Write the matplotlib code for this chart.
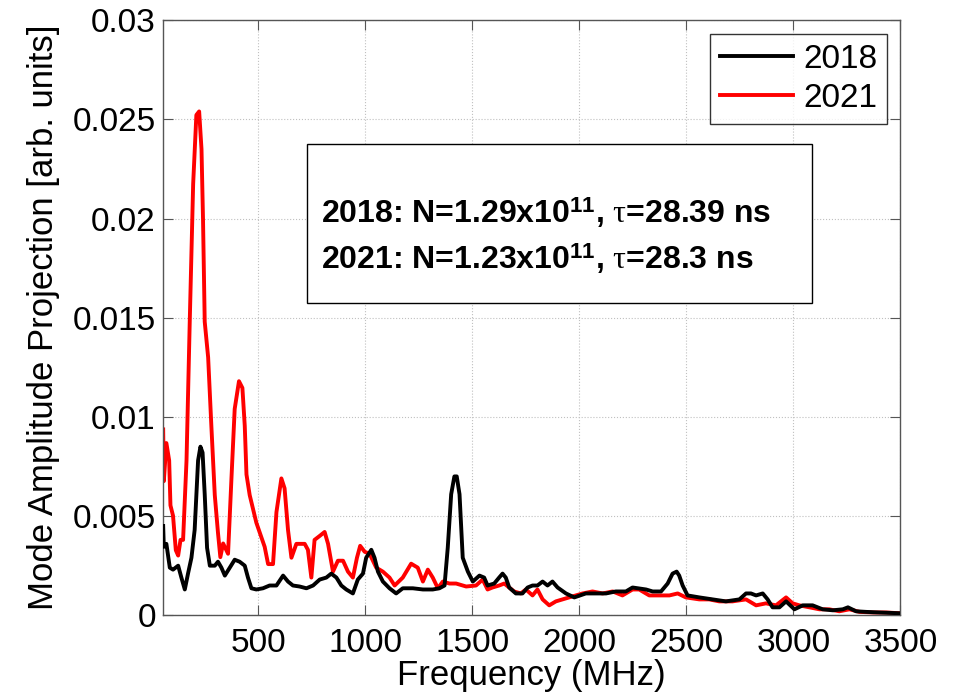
import matplotlib
matplotlib.use("Agg")
import matplotlib.pyplot as plt
from matplotlib.patches import Rectangle

plt.rcParams['font.family'] = ['Liberation Sans', 'DejaVu Sans']
plt.rcParams['mathtext.fontset'] = 'custom'
plt.rcParams['mathtext.rm'] = 'Liberation Sans'
plt.rcParams['mathtext.bf'] = 'Liberation Sans:bold'
plt.rcParams['mathtext.it'] = 'Liberation Serif'

freq_2018 = [57, 60, 72, 88, 103, 127, 142, 158, 173, 189, 204, 220, 231, 241, 251, 262, 275, 298,
             313, 329, 345, 368, 391, 414, 438, 453, 469, 492, 523, 554, 586, 617, 640, 663, 694,
             726, 757, 788, 819, 842, 866, 889, 912, 943, 966, 990, 1005, 1029, 1044, 1060, 1083,
             1114, 1145, 1176, 1223, 1270, 1316, 1347, 1371, 1386, 1402, 1417, 1428, 1441, 1456,
             1480, 1503, 1534, 1556, 1572, 1603, 1626, 1642, 1657, 1673, 1704, 1735, 1759, 1782,
             1805, 1829, 1852, 1875, 1899, 1938, 1977, 2031, 2078, 2125, 2171, 2218, 2249, 2312,
             2343, 2382, 2413, 2436, 2455, 2467, 2483, 2506, 2561, 2623, 2685, 2748, 2779, 2802,
             2826, 2857, 2880, 2903, 2935, 2966, 3005, 3044, 3090, 3137, 3184, 3231, 3255, 3293,
             3340, 3402, 3500]
amp_2018 = [0.0045, 0.00345, 0.0036, 0.0024, 0.0023, 0.0025, 0.0019, 0.0013, 0.0021, 0.0029, 0.0043,
            0.0078, 0.0085, 0.0082, 0.0061, 0.0034, 0.0025, 0.0025, 0.0027, 0.0024, 0.0020, 0.0024,
            0.0028, 0.0027, 0.0025, 0.0019, 0.00136, 0.0013, 0.00136, 0.0015, 0.0015, 0.0020,
            0.0017, 0.0015, 0.00145, 0.00136, 0.0015, 0.0018, 0.0019, 0.0021, 0.0019, 0.0015,
            0.0013, 0.0011, 0.0018, 0.0021, 0.0029, 0.0033, 0.0029, 0.0022, 0.0017, 0.00136,
            0.0011, 0.00136, 0.00136, 0.0013, 0.0013, 0.00136, 0.0015, 0.0034, 0.0061, 0.0070,
            0.0070, 0.0061, 0.0029, 0.0022, 0.0017, 0.0020, 0.0019, 0.0015, 0.0016, 0.0019, 0.0021,
            0.0019, 0.0014, 0.0011, 0.0011, 0.0014, 0.0015, 0.0015, 0.0017, 0.0015, 0.0017, 0.0014,
            0.0011, 0.0009, 0.0011, 0.0011, 0.0011, 0.0012, 0.0012, 0.0014, 0.0013, 0.0012, 0.0012,
            0.0016, 0.0021, 0.0022, 0.0020, 0.0015, 0.0010, 0.0009, 0.0008, 0.0007, 0.0008, 0.0011,
            0.0011, 0.0010, 0.0011, 0.0008, 0.0004, 0.0004, 0.0007, 0.0003, 0.0005, 0.0005, 0.0003,
            0.00025, 0.0003, 0.0004, 0.0002, 0.00017, 0.00014, 0.0001]

freq_2021 = [57, 60, 72, 85, 91, 103, 116, 127, 138, 150, 166, 181, 197, 212, 225, 236, 243, 251,
             267, 282, 298, 313, 324, 337, 360, 376, 391, 411, 427, 438, 446, 461, 492, 531, 547,
             570, 586, 609, 624, 640, 656, 679, 718, 733, 749, 764, 788, 811, 827, 850, 873, 897,
             920, 943, 962, 977, 998, 1021, 1052, 1083, 1114, 1138, 1176, 1215, 1246, 1270, 1293,
             1316, 1340, 1363, 1394, 1425, 1472, 1518, 1549, 1572, 1595, 1626, 1650, 1673, 1696,
             1727, 1751, 1782, 1805, 1829, 1860, 1891, 1922, 1953, 1984, 2016, 2062, 2109, 2156,
             2202, 2249, 2280, 2327, 2374, 2421, 2460, 2498, 2561, 2607, 2654, 2716, 2779, 2826,
             2872, 2919, 2966, 2997, 3028, 3075, 3122, 3168, 3215, 3262, 3309, 3371, 3433, 3500]
amp_2021 = [0.00937, 0.00676, 0.00868, 0.0078, 0.00554, 0.00502, 0.00328, 0.00301, 0.0038, 0.0038,
            0.0078, 0.01477, 0.02174, 0.02522, 0.0254, 0.0235, 0.0200, 0.0148, 0.0130, 0.00955,
            0.00606, 0.00415, 0.00293, 0.00362, 0.0031, 0.00693, 0.0104, 0.0118, 0.01146, 0.00955,
            0.0071, 0.00606, 0.00467, 0.00345, 0.00258, 0.00258, 0.0052, 0.0069, 0.0064, 0.0043,
            0.0029, 0.0036, 0.0036, 0.0033, 0.0019, 0.0038, 0.0040, 0.0042, 0.0036, 0.0022,
            0.00275, 0.00275, 0.0022, 0.0019, 0.0029, 0.0035, 0.0032, 0.0031, 0.0024, 0.0022,
            0.0019, 0.0015, 0.0019, 0.0026, 0.0024, 0.0017, 0.0023, 0.0019, 0.00136, 0.0017,
            0.0016, 0.0016, 0.00145, 0.0015, 0.0018, 0.0013, 0.0014, 0.0015, 0.0016, 0.0014,
            0.0012, 0.0011, 0.0013, 0.0010, 0.0013, 0.0008, 0.0005, 0.0007, 0.0008, 0.0009, 0.0010,
            0.0011, 0.0012, 0.0011, 0.0012, 0.0010, 0.0013, 0.0013, 0.0010, 0.0010, 0.0010, 0.0011,
            0.0009, 0.0008, 0.0008, 0.0007, 0.0007, 0.0008, 0.0005, 0.0006, 0.0005, 0.0009, 0.0006,
            0.0005, 0.0004, 0.0003, 0.0003, 0.0002, 0.0003, 0.00017, 0.00014, 0.00014, 0.0001]

x_ticks = [500, 1000, 1500, 2000, 2500, 3000, 3500]
y_ticks = [0, 0.005, 0.01, 0.015, 0.02, 0.025, 0.03]
y_tick_labels = ['0', '0.005', '0.01', '0.015', '0.02', '0.025', '0.03']
series_labels = ['2018', '2021']
info_lines = [r'2018: N=1.29x10$^{\mathbf{11}}$, $\tau$=28.39 ns',
              r'2021: N=1.23x10$^{\mathbf{11}}$, $\tau$=28.3 ns']

fig = plt.figure(figsize=(9.63, 6.96), dpi=100)
ax = fig.add_axes([0.169, 0.116, 0.766, 0.855])

ax.plot(freq_2018, amp_2018, color='black', lw=2.8, label=series_labels[0], zorder=3)
ax.plot(freq_2021, amp_2021, color='#ff0000', lw=2.8, label=series_labels[1], zorder=2)

ax.set_xlim(55, 3500)
ax.set_ylim(0, 0.03)
ax.set_xticks(x_ticks)
ax.set_yticks(y_ticks)
ax.set_yticklabels(y_tick_labels)
ax.tick_params(direction='in', labelsize=24, top=True, right=True, length=7, color='#555555', pad=5)
ax.tick_params(axis='x', pad=9)
ax.grid(True, linestyle=':', color='#c0c0c0', lw=0.8)
for s in ax.spines.values():
    s.set_color('#555555')
    s.set_linewidth(1.0)

ax.set_xlabel('Frequency (MHz)', fontsize=25, labelpad=0)
ax.set_ylabel('Mode Amplitude Projection [arb. units]', fontsize=25, labelpad=9)

leg = ax.legend(loc='upper right', fontsize=24, frameon=True, fancybox=False,
                edgecolor='black', handlelength=2.2, borderpad=0.3, labelspacing=0.25,
                handletextpad=0.3, borderaxespad=0.4)
leg.get_frame().set_linewidth(1.0)

# info box
ax.add_patch(Rectangle((0.319, 0.565), 0.524, 0.228, transform=fig.transFigure,
                       fill=True, facecolor='white', edgecolor='black', lw=1.0, zorder=5))
fig.text(0.333, 1 - 213 / 696, info_lines[0], fontsize=23, fontweight='bold',
         va='center', zorder=6)
fig.text(0.333, 1 - 259 / 696, info_lines[1], fontsize=23, fontweight='bold',
         va='center', zorder=6)

fig.savefig('out.png', dpi=100)
